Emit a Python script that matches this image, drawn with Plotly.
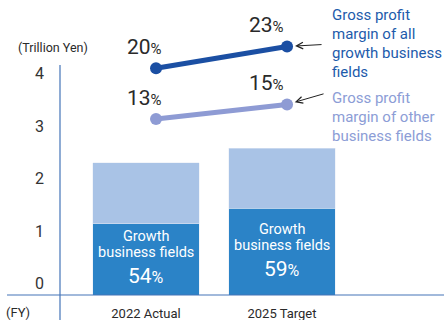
import plotly.graph_objects as go

# Sales (trillion yen) and share from growth business fields
years = ["2022 Actual", "2025 Target"]
total_sales = [2.51, 2.79]
growth_share = [54, 59]

# Gross profit margins (%)
margin_growth = [20, 23]
margin_other = [13, 15]

y_ticks = [0, 1, 2, 3, 4]

growth_sales = [t * s / 100 for t, s in zip(total_sales, growth_share)]
other_sales = [t - g for t, g in zip(total_sales, growth_sales)]

FONT = "Roboto"
C_GROWTH_BAR = "#2b83c7"
C_OTHER_BAR = "#a9c3e6"
C_LINE_DARK = "#1b4fa3"
C_LINE_LIGHT = "#8e9bd4"
C_AXIS = "#4474b8"
C_TEXT = "#2a2a2a"

fig = go.Figure()

fig.add_trace(go.Bar(
    x=years, y=growth_sales, marker_color=C_GROWTH_BAR, width=0.78,
    hoverinfo="skip",
))
fig.add_trace(go.Bar(
    x=years, y=other_sales, marker_color=C_OTHER_BAR, width=0.78,
    hoverinfo="skip",
))

fig.add_trace(go.Scatter(
    x=years, y=margin_growth, xaxis="x2", yaxis="y2", mode="lines+markers",
    line=dict(color=C_LINE_DARK, width=5), marker=dict(size=12, color=C_LINE_DARK),
    hoverinfo="skip",
))
fig.add_trace(go.Scatter(
    x=years, y=margin_other, xaxis="x2", yaxis="y2", mode="lines+markers",
    line=dict(color=C_LINE_LIGHT, width=5), marker=dict(size=12, color=C_LINE_LIGHT),
    hoverinfo="skip",
))

annotations = []

# labels inside the growth-field segments
for yr, g, s in zip(years, growth_sales, growth_share):
    annotations.append(dict(
        x=yr, y=g / 2, xref="x", yref="y", showarrow=False, yshift=14.5,
        text="<span style='font-size:14.5px'>Growth</span><br>"
             "<span style='font-size:14.5px'>business fields</span>",
        font=dict(family=FONT, size=12.3, color="white"),
    ))
    annotations.append(dict(
        x=yr, y=g / 2, xref="x", yref="y", showarrow=False, yshift=-17,
        text=f"{s}<span style='font-size:16px'>%</span>",
        font=dict(family=FONT, size=21, color="white"),
    ))

label_dx = [-12, -21]
for series in (margin_growth, margin_other):
    for i, (yr, v) in enumerate(zip(years, series)):
        annotations.append(dict(
            x=yr, y=v, xref="x2", yref="y2", showarrow=False,
            text=f"{v}<span style='font-size:15px'>%</span>",
            font=dict(family=FONT, size=21, color=C_TEXT),
            xshift=label_dx[i], yshift=21,
        ))

# pointer arrows from the series notes to the 2025 markers
annotations.append(dict(
    x=years[1], y=margin_growth[1], xref="x2", yref="y2", text="",
    showarrow=True, ax=36, ay=-2, arrowhead=5, arrowsize=1.3,
    arrowwidth=1, arrowcolor="#222", standoff=8,
))
annotations.append(dict(
    x=years[1], y=margin_other[1], xref="x2", yref="y2", text="",
    showarrow=True, ax=38, ay=-11, arrowhead=5, arrowsize=1.3,
    arrowwidth=1, arrowcolor="#222", standoff=8,
))

annotations.append(dict(
    x=0.703, y=0.985, xref="paper", yref="paper", xanchor="left", yanchor="top",
    align="left", showarrow=False,
    text="<br>".join(f"<span style='font-size:15px'>{t}</span>" for t in
                     ["Gross profit", "margin of all", "growth business", "fields"]),
    font=dict(family=FONT, size=14.6, color="#1d5bab"),
))
annotations.append(dict(
    x=0.703, y=0.705, xref="paper", yref="paper", xanchor="left", yanchor="top",
    align="left", showarrow=False,
    text="<br>".join(f"<span style='font-size:15px'>{t}</span>" for t in
                     ["Gross profit", "margin of other", "business fields"]),
    font=dict(family=FONT, size=14.6, color="#8c9dd6"),
))

annotations.append(dict(
    x=-0.018, y=0.84, xref="paper", yref="paper", showarrow=False,
    xanchor="center", yanchor="middle",
    text="(Trillion Yen)", font=dict(family=FONT, size=12.5, color=C_TEXT),
))
annotations.append(dict(
    x=-0.109, y=-0.058, xref="paper", yref="paper", showarrow=False,
    xanchor="center", yanchor="middle",
    text="(FY)", font=dict(family=FONT, size=13, color=C_TEXT),
))

shapes = [
    dict(type="line", xref="paper", yref="paper", x0=0, x1=0, y0=-0.0847, y1=0.78,
         line=dict(color=C_AXIS, width=1.2)),
    dict(type="line", xref="paper", yref="paper", x0=-0.138, x1=1, y0=0, y1=0,
         line=dict(color=C_AXIS, width=1.2)),
]

fig.update_layout(
    width=444, height=320,
    margin=dict(l=60, r=0, t=0, b=25),
    paper_bgcolor="white", plot_bgcolor="white",
    barmode="stack", showlegend=False,
    xaxis=dict(range=[-0.632, 2.191], showgrid=False, zeroline=False, showline=False,
               ticks="", ticklabelstandoff=9,
               tickfont=dict(family=FONT, size=13, color=C_TEXT),
               automargin=False, fixedrange=True),
    yaxis=dict(range=[0, 5.608], tickvals=y_ticks, showgrid=False, zeroline=False,
               showline=False, ticks="", ticklabelposition="outside top",
               ticklabelstandoff=15,
               tickfont=dict(family=FONT, size=16, color="#333"),
               automargin=False, fixedrange=True),
    xaxis2=dict(overlaying="x", range=[-0.733, 2.198], visible=False,
                categoryorder="array", categoryarray=years),
    yaxis2=dict(overlaying="y", range=[-11.32, 29.42], visible=False),
    annotations=annotations,
    shapes=shapes,
)

fig.write_html("out.html")
